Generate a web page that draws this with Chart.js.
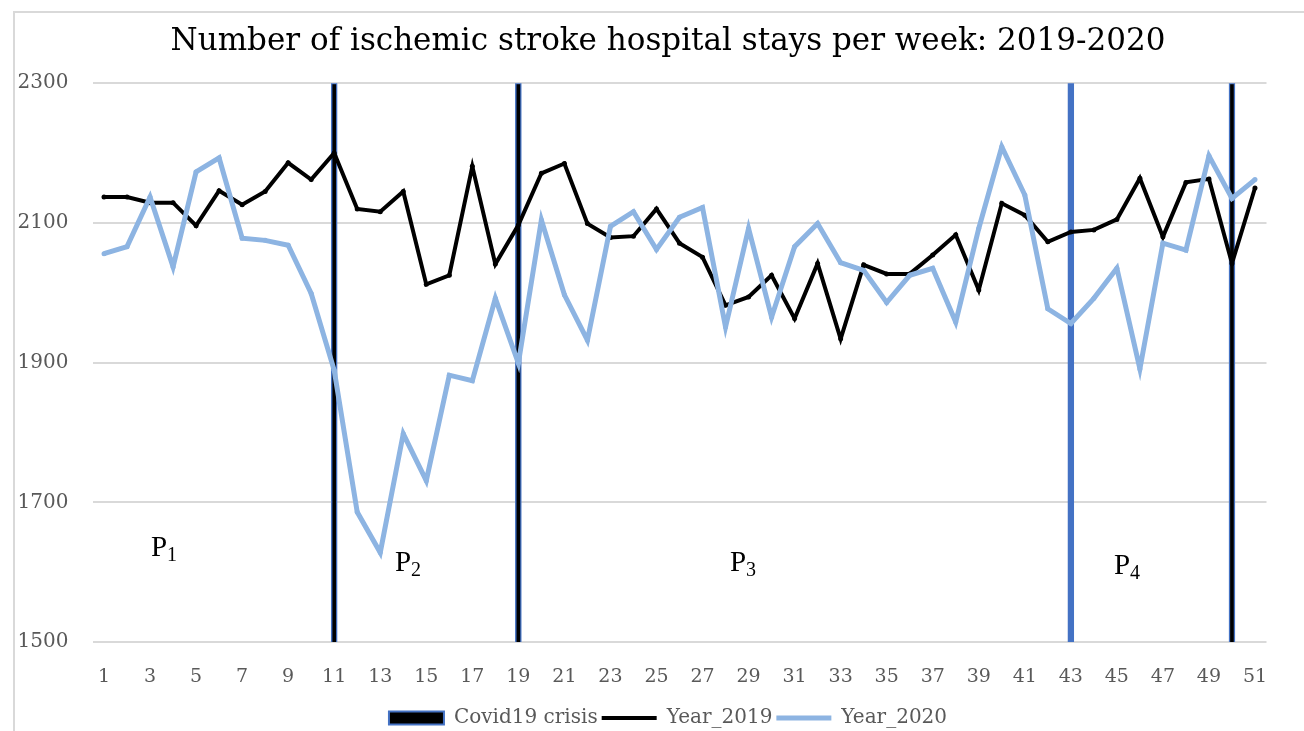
<!DOCTYPE html>
<html>
<head>
<meta charset="utf-8">
<script src="https://cdn.jsdelivr.net/npm/chart.js@4/dist/chart.umd.min.js"></script>
<style>
  html, body { margin: 0; padding: 0; background: #fff; overflow: hidden; }
  #wrap { position: relative; width: 1304px; height: 731px; overflow: hidden; }
  #frame { position: absolute; left: 13px; top: 11px; width: 1400px; height: 800px; border: 2px solid #d9d9d9; box-sizing: border-box; }
  canvas { position: absolute; left: 0; top: 0; }
</style>
</head>
<body>
<div id="wrap">
  <div id="frame"></div>
  <canvas id="c" width="1336" height="738"></canvas>
</div>
<script>
// ---- data ----
const weeks = Array.from({length: 51}, (_, i) => String(i + 1));
const year2019 = [2137, 2137, 2129, 2129, 2096, 2146, 2126, 2145, 2186, 2162,
                  2200, 2120, 2116, 2145, 2012, 2025, 2181, 2041, 2097, 2171,
                  2185, 2099, 2079, 2081, 2120, 2071, 2051, 1982, 1994, 2025,
                  1963, 2042, 1934, 2040, 2027, 2027, 2054, 2083, 2004, 2128,
                  2111, 2073, 2087, 2090, 2105, 2164, 2080, 2158, 2163, 2042, 2150];
const year2020 = [2056, 2066, 2137, 2037, 2173, 2193, 2078, 2075, 2068, 1999,
                  1889, 1686, 1628, 1798, 1731, 1882, 1874, 1992, 1899, 2104,
                  1997, 1932, 2095, 2116, 2062, 2108, 2122, 1951, 2092, 1965,
                  2066, 2099, 2043, 2032, 1986, 2025, 2035, 1958, 2092, 2209,
                  2140, 1977, 1956, 1992, 2035, 1891, 2071, 2061, 2196, 2135, 2162];
const crisisWeeks = [11, 19, 43, 50];
const crisisValue = 2300;
const covid = weeks.map(w => crisisWeeks.includes(Number(w)) ? crisisValue : null);
const yTicks = [1500, 1700, 1900, 2100, 2300];
const periodNames = ['P', 'P', 'P', 'P'];
const periodSubs = ['1', '2', '3', '4'];
// annotation anchors (week position, value at baseline)
const periodWeek = [3.04, 13.64, 28.19, 44.87];
const periodValue = [1623, 1602, 1601, 1597];

const covidFill = weeks.map(w => Number(w) === 43 ? '#4472C4' : '#000000');

const periodLabels = {
  id: 'periodLabels',
  afterDatasetsDraw(chart) {
    const {ctx, scales: {x, y}} = chart;
    ctx.save();
    ctx.fillStyle = '#000';
    ctx.textBaseline = 'alphabetic';
    ctx.textAlign = 'left';
    for (let i = 0; i < periodNames.length; i++) {
      const px = x.getPixelForValue(periodWeek[i] - 1);
      const py = y.getPixelForValue(periodValue[i]);
      ctx.font = '29px "Liberation Serif"';
      ctx.fillText(periodNames[i], px, py);
      const w = ctx.measureText(periodNames[i]).width;
      ctx.font = '20px "Liberation Serif"';
      ctx.fillText(periodSubs[i], px + w, py + 5);
    }
    ctx.restore();
  }
};

new Chart(document.getElementById('c'), {
  data: {
    labels: weeks,
    datasets: [
      {
        type: 'bar',
        label: 'Covid19 crisis',
        data: covid,
        backgroundColor: covidFill,
        borderColor: '#4472C4',
        borderWidth: 1.5,
        borderSkipped: false,
        barThickness: 6,
        order: 3
      },
      {
        type: 'line',
        label: 'Year_2019',
        data: year2019,
        borderColor: '#000000',
        backgroundColor: '#000000',
        borderWidth: 4,
        pointRadius: 2.5,
        pointBorderWidth: 0,
        pointBackgroundColor: '#000000',
        tension: 0,
        order: 2
      },
      {
        type: 'line',
        label: 'Year_2020',
        data: year2020,
        borderColor: '#8DB4E2',
        backgroundColor: '#8DB4E2',
        borderWidth: 5,
        pointRadius: 2.5,
        pointBorderWidth: 0,
        pointBackgroundColor: '#8DB4E2',
        tension: 0,
        order: 1
      }
    ]
  },
  options: {
    responsive: false,
    animation: false,
    layout: { padding: { left: 0, right: 0, top: 0, bottom: 0 } },
    plugins: {
      title: {
        display: true,
        text: 'Number of ischemic stroke hospital stays per week: 2019-2020',
        color: '#000',
        font: { family: '"DejaVu Serif"', size: 31, weight: 'normal' },
        padding: { top: 23, bottom: 23 }
      },
      legend: {
        position: 'bottom',
        labels: {
          color: '#595959',
          font: { family: '"DejaVu Serif"', size: 20 },
          usePointStyle: true,
          pointStyleWidth: 55,
          boxHeight: 13,
          padding: 4,
          sort: (a, b) => a.datasetIndex - b.datasetIndex,
          generateLabels(chart) {
            const items = Chart.defaults.plugins.legend.labels.generateLabels(chart);
            items.forEach(it => {
              const ds = chart.data.datasets[it.datasetIndex];
              if (ds.type === 'bar') {
                it.fillStyle = '#000000';
                it.strokeStyle = '#4472C4';
                it.lineWidth = 2;
                it.pointStyle = 'rect';
              } else {
                it.strokeStyle = ds.borderColor;
                it.lineWidth = ds.borderWidth;
                it.pointStyle = 'line';
              }
            });
            return items;
          }
        }
      },
      tooltip: { enabled: false }
    },
    scales: {
      x: {
        offset: true,
        grid: { display: false, drawTicks: false },
        border: { display: false },
        afterFit(scale) { scale.height = 62; },
        ticks: {
          color: '#595959',
          font: { family: '"DejaVu Serif"', size: 19 },
          padding: 24,
          autoSkip: false,
          maxRotation: 0,
          callback(v, i) { return i % 2 === 0 ? weeks[i] : ''; }
        }
      },
      y: {
        min: yTicks[0],
        max: yTicks[yTicks.length - 1],
        afterBuildTicks(scale) { scale.ticks = yTicks.map(v => ({value: v})); },
        afterFit(scale) { scale.width = 92.5; },
        grid: { color: '#d9d9d9', lineWidth: 2, drawTicks: false },
        border: { display: false },
        ticks: {
          color: '#595959',
          font: { family: '"DejaVu Serif"', size: 20 },
          padding: 24,
          callback(v) { return String(v); }
        }
      },
      yRight: {
        position: 'right',
        min: yTicks[0],
        max: yTicks[yTicks.length - 1],
        afterFit(scale) { scale.width = 69.5; },
        grid: { display: false, drawTicks: false },
        border: { display: false },
        ticks: { display: false }
      }
    }
  },
  plugins: [periodLabels]
});
</script>
</body>
</html>
